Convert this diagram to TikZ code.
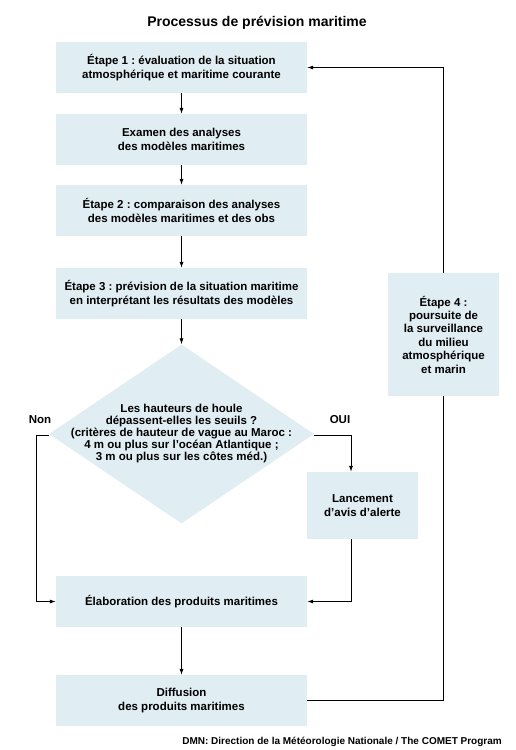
\documentclass[tikz,border=0pt]{standalone}
\usepackage{fontspec}
\setmainfont{Liberation Sans}
\usetikzlibrary{arrows.meta,shapes.geometric}
\definecolor{boxblue}{HTML}{E0EDF2}
\frenchspacing

\begin{document}
\begin{tikzpicture}[x=1pt,y=-1pt,
  box/.style={fill=boxblue,minimum width=251pt,minimum height=51pt,inner sep=0pt,align=center,font=\bfseries\fontsize{11.5}{13.4}\selectfont},
  lbl/.style={inner sep=0pt,font=\bfseries\fontsize{11.5}{13.4}\selectfont},
  arr/.style={-{Latex[length=6pt,width=4pt]},line width=0.8pt},
  ln/.style={line width=0.8pt}]
\useasboundingbox (0,0) rectangle (515,750);
\node[lbl,font=\bfseries\fontsize{14}{16}\selectfont] (title) at (257,23) {Processus de prévision maritime};
% main column
\node[box] (s1) at (181.5,67.5) {Étape 1 : évaluation de la situation\\atmosphérique et maritime courante};
\node[box] (exam) at (181.5,139.5) {Examen des analyses\\des modèles maritimes};
\node[box] (s2) at (181.5,210.5) {Étape 2 : comparaison des analyses\\des modèles maritimes et des obs};
\node[box] (s3) at (181.5,293.5) {Étape 3 : prévision de la situation maritime\\en interprétant les résultats des modèles};
\node[diamond,fill=boxblue,minimum width=265pt,minimum height=179pt,inner sep=0pt] (q) at (181.5,434) {};
\node[align=center,inner sep=0pt,font=\bfseries\fontsize{11.5}{12}\selectfont] (qtext) at (q.center) {Les hauteurs de houle\\dépassent-elles les seuils ?\\(critères de hauteur de vague au Maroc :\\4 m ou plus sur l’océan Atlantique ;\\3 m ou plus sur les côtes méd.)};
\node[box,minimum width=111pt,minimum height=67pt] (alert) at (362.5,505.5) {Lancement\\d’avis d’alerte};
\node[box] (elab) at (181.5,601.5) {Élaboration des produits maritimes};
\node[box] (diff) at (181.5,700.5) {Diffusion\\des produits maritimes};
\node[box,minimum width=111pt,minimum height=123pt] (s4) at (443.5,334.5) {Étape 4 :\\poursuite de\\la surveillance\\du milieu\\atmosphérique\\et marin};
\node[lbl] (non) at (40,420) {Non};
\node[lbl] (oui) at (340,420) {OUI};
\node[anchor=east,inner sep=0pt,font=\bfseries\fontsize{10}{12}\selectfont] (src) at (502,742) {DMN: Direction de la Météorologie Nationale / The COMET Program};
% connectors
\coordinate (nonc) at (36,435);
\coordinate (ouic) at (351,435);
\draw[arr] (s1) -- (exam);
\draw[arr] (exam) -- (s2);
\draw[arr] (s2) -- (s3);
\draw[arr] (s3) -- (q.north);
\draw[arr] (q.west |- nonc) -- (nonc) |- (elab.west);
\draw[arr] (q.east |- ouic) -- (ouic) -- (ouic |- alert.north);
\draw[arr] (ouic |- alert.south) |- (elab.east);
\draw[arr] (elab) -- (diff);
\draw[ln] (diff.east) -| (s4.south);
\draw[arr] (s4.north) |- (s1.east);
\end{tikzpicture}
\end{document}
